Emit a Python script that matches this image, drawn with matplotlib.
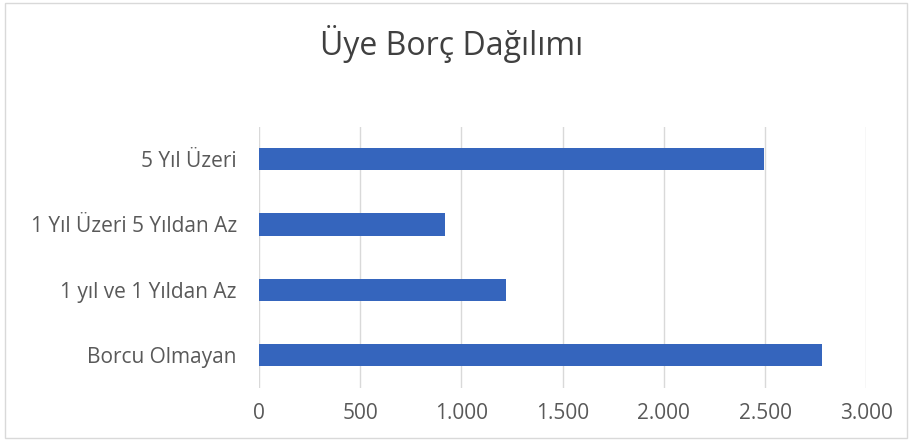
import matplotlib.pyplot as plt
from matplotlib.patches import Rectangle
from matplotlib.ticker import FuncFormatter

# Member debt distribution (number of members per group)
categories = ["Borcu Olmayan", "1 yıl ve 1 Yıldan Az", "1 Yıl Üzeri 5 Yıldan Az", "5 Yıl Üzeri"]
counts = [2780, 1220, 920, 2495]
x_ticks = [0, 500, 1000, 1500, 2000, 2500, 3000]

BAR_COLOR = "#3565bd"
TEXT_COLOR = "#595959"


def thousands(value, _pos):
    return f"{int(value):,}".replace(",", ".")


def main() -> None:
    plt.rcParams["font.family"] = ["Open Sans", "DejaVu Sans"]
    fig = plt.figure(figsize=(9.12, 4.41), dpi=100)
    ax = fig.add_axes([0.284, 0.121, 0.666, 0.592])

    ax.barh(range(len(categories)), counts, height=0.34, color=BAR_COLOR, zorder=3)
    ax.set_yticks(range(len(categories)))
    ax.set_yticklabels(categories)
    ax.set_ylim(-0.5, len(categories) - 0.5)

    ax.set_xlim(0, 3000)
    ax.set_xticks(x_ticks)
    ax.xaxis.set_major_formatter(FuncFormatter(thousands))
    ax.grid(axis="x", color="#d9d9d9", linewidth=1, zorder=0)

    for spine in ax.spines.values():
        spine.set_visible(False)
    ax.tick_params(axis="both", length=0, labelsize=15, labelcolor=TEXT_COLOR)
    ax.tick_params(axis="x", pad=11)
    ax.tick_params(axis="y", pad=16)

    fig.text(0.495, 0.9, "Üye Borç Dağılımı", ha="center", va="center",
             fontsize=23, color="#404040")

    # light chart frame
    fig.patches.append(Rectangle((0.006, 0.006), 0.988, 0.988, transform=fig.transFigure,
                                 fill=False, edgecolor="#d9d9d9", linewidth=1))

    fig.savefig("out.png", dpi=100, facecolor="white")
    plt.close(fig)


if __name__ == "__main__":
    main()
